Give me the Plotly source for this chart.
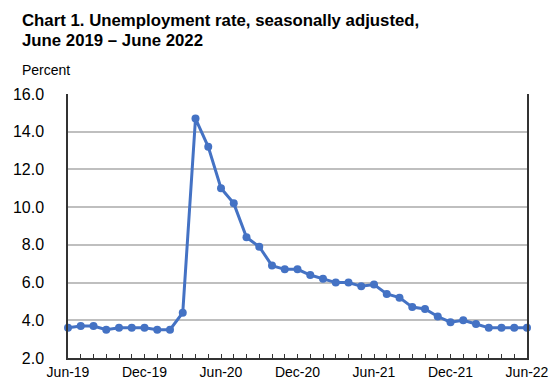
import plotly.graph_objects as go

months = ["Jun-19","Jul-19","Aug-19","Sep-19","Oct-19","Nov-19","Dec-19",
          "Jan-20","Feb-20","Mar-20","Apr-20","May-20","Jun-20","Jul-20","Aug-20","Sep-20","Oct-20","Nov-20","Dec-20",
          "Jan-21","Feb-21","Mar-21","Apr-21","May-21","Jun-21","Jul-21","Aug-21","Sep-21","Oct-21","Nov-21","Dec-21",
          "Jan-22","Feb-22","Mar-22","Apr-22","May-22","Jun-22"]
rate = [3.6, 3.7, 3.7, 3.5, 3.6, 3.6, 3.6,
        3.5, 3.5, 4.4, 14.7, 13.2, 11.0, 10.2, 8.4, 7.9, 6.9, 6.7, 6.7,
        6.4, 6.2, 6.0, 6.0, 5.8, 5.9, 5.4, 5.2, 4.7, 4.6, 4.2, 3.9,
        4.0, 3.8, 3.6, 3.6, 3.6, 3.6]
labeled = ["Jun-19", "Dec-19", "Jun-20", "Dec-20", "Jun-21", "Dec-21", "Jun-22"]
y_ticks = [2.0, 4.0, 6.0, 8.0, 10.0, 12.0, 14.0, 16.0]
title_lines = ["Chart 1. Unemployment rate, seasonally adjusted,", "June 2019 – June 2022"]

xs = list(range(len(months)))
ticktext = [m if m in labeled else "" for m in months]

fig = go.Figure()
fig.add_trace(go.Scatter(
    x=xs, y=rate, mode="lines+markers",
    line=dict(color="#4472C4", width=3),
    marker=dict(color="#4472C4", size=8),
    cliponaxis=False, showlegend=False,
))

font = "Liberation Sans, Arial, sans-serif"
W, H = 550, 391
L, T = 68, 94
R = W - 527
B = H - 358
PW, PH = W - L - R, H - T - B

annotations = []
for i, line in enumerate(title_lines):
    top_px = 9 + 20 * i
    annotations.append(dict(
        text=f"<b>{line}</b>", xref="paper", yref="paper",
        x=-(L - 20) / PW, y=1 + (T - top_px) / PH,
        xanchor="left", yanchor="top", align="left", showarrow=False,
        font=dict(size=16.8, family=font, color="black"),
    ))
annotations.append(dict(
    text="Percent", xref="paper", yref="paper",
    x=-(L - 20) / PW, y=1 + 14 / PH, xanchor="left", yanchor="bottom",
    showarrow=False, font=dict(size=14, family=font),
))

fig.update_layout(
    width=W, height=H,
    margin=dict(l=L, r=R, t=T, b=B, autoexpand=False),
    paper_bgcolor="white", plot_bgcolor="white",
    font=dict(family=font, color="black"),
    xaxis=dict(
        range=[0, 36], tickvals=xs, ticktext=ticktext, automargin=False,
        ticks="inside", ticklen=4, tickwidth=1, tickcolor="#333",
        showgrid=False, showline=True, linecolor="#333", linewidth=1.5, mirror=False,
        tickfont=dict(size=14), zeroline=False, tickangle=0, ticklabelstandoff=0,
    ),
    yaxis=dict(
        range=[2, 16], tickvals=y_ticks, ticktext=[f"{v:.1f}" for v in y_ticks],
        automargin=False,
        showgrid=True, gridcolor="#BFBFBF", gridwidth=1.5,
        showline=True, linecolor="#333", linewidth=1.5, mirror=True,
        ticks="", tickfont=dict(size=16), zeroline=False, ticklabelstandoff=19,
    ),
    annotations=annotations,
)

fig.write_html(
    "out.html",
    config={"displayModeBar": False},
    post_script="document.body.style.margin='0';document.body.style.overflow='hidden';",
)
